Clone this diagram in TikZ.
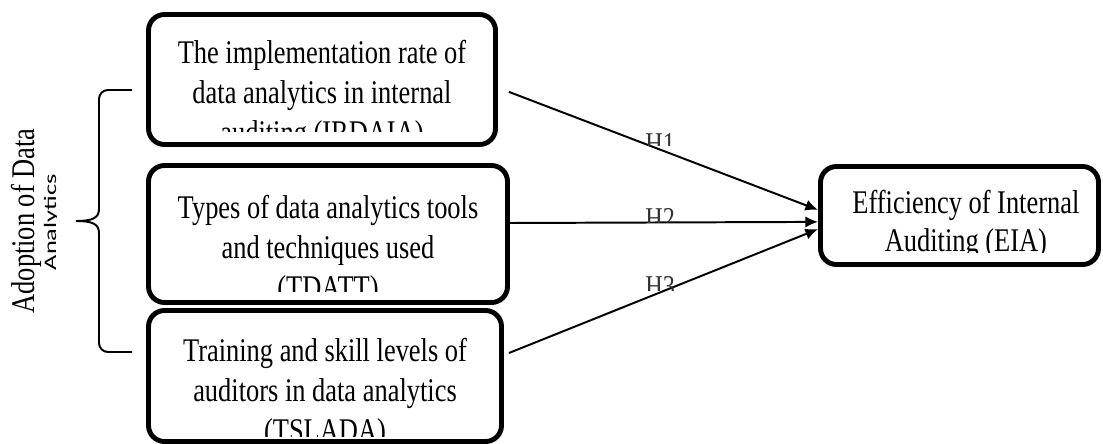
\documentclass[tikz,border=0pt]{standalone}
\usepackage{fontspec}
\setmainfont{Liberation Serif}[FakeStretch=0.8]
\newfontfamily\labelsans{Carlito}[FakeStretch=1.5]
\usetikzlibrary{arrows.meta}
\tikzset{
  varbox/.style={draw, line width=3.5pt, rounded corners=0.4cm, inner sep=0pt},
  vartext/.style={inner sep=0pt, align=center, font=\fontsize{23.5}{28.45}\selectfont},
  hyp/.style={line width=1.4pt, -{Latex[length=9pt,width=8pt]}},
  hyplabel/.style={inner sep=0pt, anchor=north west, text=black!80, font=\fontsize{21.5}{24}\selectfont},
}

\begin{document}
\begin{tikzpicture}
          \useasboundingbox (0,0) rectangle (27.575,11.075);
          \node[varbox, minimum width=8.675cm, minimum height=3.25cm] (irdaia) at (8.05,9.0875) {};
          \node[varbox, minimum width=8.975cm, minimum height=3.425cm] (tdatt) at (8.2,5.225) {};
          \node[varbox, minimum width=8.825cm, minimum height=3.275cm] (tslada) at (8.125,1.675) {};
          \node[varbox, minimum width=6.95cm, minimum height=2.45cm] (eia) at (23.9875,5.6875) {};
          \begin{scope}
            \clip (0,7.8) rectangle (13,11.075);
            \node[vartext, anchor=north] (irdaiatext) at ([yshift=-0.7cm]irdaia.north) {The implementation rate of\\data analytics in internal\\auditing (IRDAIA)};
          \end{scope}
          \begin{scope}
            \clip (0,3.8) rectangle (13,7.2);
            \node[vartext, anchor=north] (tdatttext) at ([yshift=-0.8cm]tdatt.north) {Types of data analytics tools\\and techniques used\\(TDATT)};
          \end{scope}
          \begin{scope}
            \clip (0,0.175) rectangle (13,3.4);
            \node[vartext, anchor=north] (tsladatext) at ([yshift=-0.75cm]tslada.north) {Training and skill levels of\\auditors in data analytics\\(TSLADA)};
          \end{scope}
          \begin{scope}
            \clip (20,4.77) rectangle (27.575,7.2);
            \node[vartext, anchor=north, font=\fontsize{23.5}{27}\selectfont] (eiatext) at ([shift={(0.16,-0.66)}]eia.north) {Efficiency of Internal\\Auditing (EIA)};
          \end{scope}
          \draw[hyp] ([shift={(0.275,-0.31)}]irdaia.east) -- ([yshift=0.14cm]eia.west);
          \draw[hyp] ([yshift=0.275cm]tdatt.east) -- ([yshift=-0.16cm]eia.west);
          \draw[hyp] ([shift={(0.125,0.575)}]tslada.east) -- ([yshift=-0.34cm]eia.west);
          \begin{scope}
            \clip (15,7.45) rectangle (18,8.5);
            \node[hyplabel] (h1) at (16.125,7.75) {H1};
          \end{scope}
          \begin{scope}
            \clip (15,5.525) rectangle (18,6.5);
            \node[hyplabel] (h2) at (16.125,5.875) {H2};
          \end{scope}
          \begin{scope}
            \clip (15,3.825) rectangle (18,4.8);
            \node[hyplabel] (h3) at (16.125,4.175) {H3};
          \end{scope}
          \draw[line width=1.4pt] (3.3,8.825) -- (2.7,8.825) to[out=180,in=90] (2.475,8.6)
            -- (2.475,5.85) .. controls (2.475,5.62) and (2.3,5.55) .. (1.9,5.55)
            .. controls (2.3,5.55) and (2.475,5.48) .. (2.475,5.25)
            -- (2.475,2.5) to[out=-90,in=180] (2.7,2.275) -- (3.3,2.275);
          \node[rotate=90, anchor=base, inner sep=0pt, font=\fontsize{23.5}{28}\selectfont] (adoption) at (0.85,5.55) {Adoption of Data};
          \begin{scope}
            \clip (1,0) rectangle (1.4,11.075);
            \node[rotate=90, anchor=base, inner sep=0pt, font=\labelsans\fontsize{12.5}{15}\selectfont] (analytics) at (1.4,5.52) {Analytics};
          \end{scope}
        \end{tikzpicture}
\end{document}
